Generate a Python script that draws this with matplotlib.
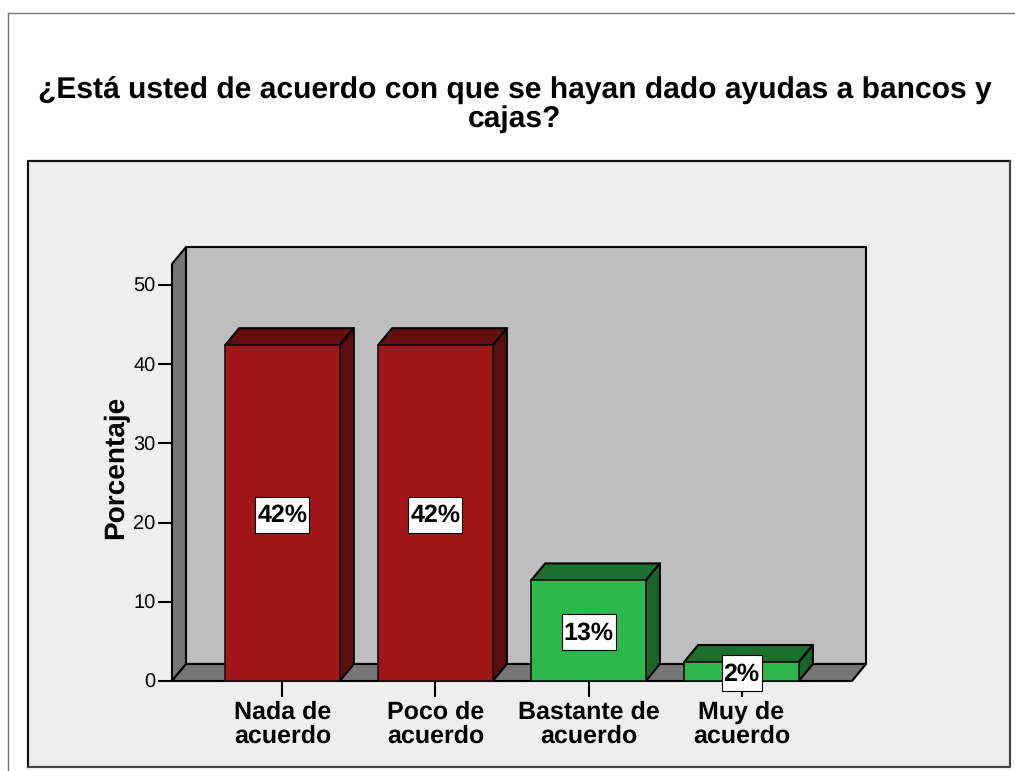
import matplotlib as mpl
import matplotlib.pyplot as plt
from matplotlib.lines import Line2D
from matplotlib.patches import Polygon, Rectangle

mpl.rcParams['font.family'] = ['Liberation Sans', 'DejaVu Sans']
mpl.rcParams['text.hinting'] = 'none'
mpl.rcParams['text.hinting_factor'] = 1

categories = ['Nada de\nacuerdo', 'Poco de\nacuerdo', 'Bastante de\nacuerdo', 'Muy de\nacuerdo']
percent = [42.4, 42.4, 12.7, 2.4]
y_ticks = [0, 10, 20, 30, 40, 50]
front_colors = ['#a01619', '#a01619', '#2eb84c', '#2eb84c']
top_colors = ['#660d10', '#660d10', '#1d6f2e', '#1d6f2e']
side_colors = ['#5a0c0f', '#5a0c0f', '#1a642a', '#1a642a']

W, H = 1015, 771
bar_width = 0.75

fig = plt.figure(figsize=(W / 100, H / 100), dpi=100, facecolor='white')


def px_line(xs, ys, color, lw):
    fig.add_artist(Line2D([x / W for x in xs], [1 - y / H for y in ys], color=color, lw=lw))


# outer frame and chart panel
px_line([7.5, 7.5], [771, 13], '#777777', 1.0)
px_line([7.5, 1015], [13, 13], '#777777', 1.0)
fig.add_artist(Rectangle((28 / W, 1 - 767 / H), 982 / W, 606 / H, facecolor='#efefef',
                         edgecolor='none', transform=fig.transFigure, zorder=-1))
px_line([28, 28, 1010], [767, 161, 161], '#111111', 1.6)
px_line([28, 1010, 1010], [767, 767, 161], '#444444', 1.6)

ax = fig.add_axes([172 / W, 1 - 681 / H, 680 / W, 417 / H])
ax.patch.set_visible(False)
ax.set_xlim(-0.722, 3.722)
ax.set_ylim(0, 52.65)
for s in ax.spines.values():
    s.set_visible(False)

# depth of the fake 3d box, in data units
dx = 14 / 153
dy = 17 / 7.92
x0, x1 = ax.get_xlim()
y0, y1 = ax.get_ylim()


def face(pts, color, z=1):
    ax.add_patch(Polygon(pts, closed=True, facecolor=color, edgecolor='black',
                         lw=1.5, clip_on=False, zorder=z, joinstyle='round'))


face([(x0 + dx, y0 + dy), (x1 + dx, y0 + dy), (x1 + dx, y1 + dy), (x0 + dx, y1 + dy)], '#bebebe')
face([(x0, y0), (x0 + dx, y0 + dy), (x0 + dx, y1 + dy), (x0, y1)], '#767676')
face([(x0, y0), (x1, y0), (x1 + dx, y0 + dy), (x0 + dx, y0 + dy)], '#767676')

positions = list(range(len(categories)))
for p, v, fc, tc, sc in zip(positions, percent, front_colors, top_colors, side_colors):
    l, r = p - bar_width / 2, p + bar_width / 2
    face([(l, v), (r, v), (r + dx, v + dy), (l + dx, v + dy)], tc, 1.2)
    face([(r, 0), (r + dx, dy), (r + dx, v + dy), (r, v)], sc, 1.2)
    ax.bar(p, v, width=bar_width, color=fc, edgecolor='#111111', lw=1.2, zorder=1.3, clip_on=False)
    # value label in a white box, narrower for a single digit
    label = '{:.0f}%'.format(v)
    box_w = (54 if len(label) > 2 else 40) / 153
    box_h = 36 / 7.92
    yc = v / 2 - 0.2
    ax.add_patch(Rectangle((p - box_w / 2, yc - box_h / 2), box_w, box_h, facecolor='white',
                           edgecolor='black', lw=0.8, zorder=4, clip_on=False))
    ax.text(p, yc - 0.1, label, ha='center', va='center', fontsize=18, fontweight='bold', zorder=5)

ax.set_yticks(y_ticks)
ax.set_xticks(positions)
ax.set_xticklabels(categories, fontsize=17.9, fontweight='bold', linespacing=1.0)
ax.tick_params(axis='y', length=10, width=1.5, labelsize=14.5, pad=2)
ax.tick_params(axis='x', length=11.5, width=1.5, pad=3)
ax.set_ylabel('Porcentaje', fontsize=20, fontweight='bold')
ax.yaxis.set_label_coords(-0.063, 0.513)

fig.text(515 / W, 1 - 104 / H, '¿Está usted de acuerdo con que se hayan dado ayudas a bancos y\ncajas?',
         ha='center', va='center', fontsize=21.6, fontweight='bold', linespacing=1.05)

fig.savefig('out.png', dpi=100)
